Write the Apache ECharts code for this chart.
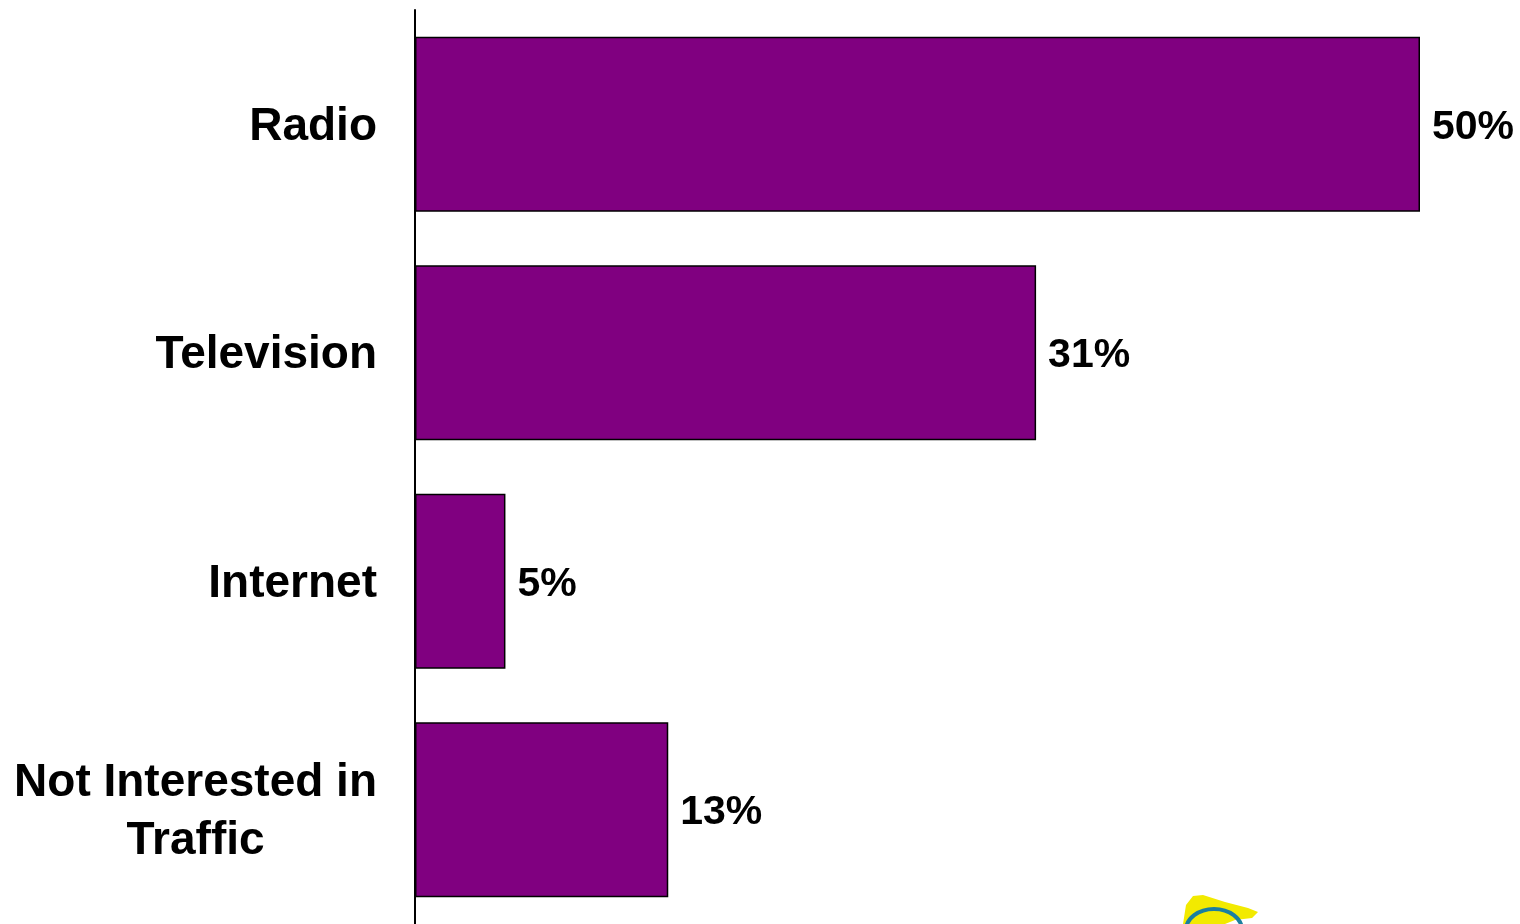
<!DOCTYPE html>
<html>
<head>
<meta charset="utf-8">
<script src="https://cdn.jsdelivr.net/npm/echarts@6/dist/echarts.min.js"></script>
<style>
html,body{margin:0;padding:0;background:#fff;}
#chart{width:1520px;height:924px;}
</style>
</head>
<body>
<div id="chart"></div>
<script>
const categories = ["Radio", "Television", "Internet", "Not Interested in\nTraffic"];
const values = [50, 30.9, 4.5, 12.6];
const valueLabels = ["50%", "31%", "5%", "13%"];

const chart = echarts.init(document.getElementById('chart'));
const FONT = '"Liberation Sans", Arial, sans-serif';
chart.setOption({
  animation: false,
  backgroundColor: '#ffffff',
  grid: { left: 415, right: 100, top: 10, height: 915, containLabel: false },
  xAxis: { type: 'value', min: 0, max: 50, show: false },
  yAxis: {
    type: 'category',
    data: categories,
    inverse: true,
    axisLine: { show: true, lineStyle: { color: '#000', width: 2 } },
    axisTick: { show: false },
    splitLine: { show: false },
    axisLabel: {
      margin: 38,
      color: '#000',
      fontSize: 46,
      fontWeight: 'bold',
      fontFamily: FONT,
      lineHeight: 58,
      padding: [6, 0, 0, 0],
      formatter: function (v) {
        return v.split('\n').map(s => '{c|' + s + '}').join('\n');
      },
      rich: {
        c: { align: 'center', fontSize: 46, fontWeight: 'bold', fontFamily: FONT, color: '#000', lineHeight: 58 }
      }
    }
  },
  series: [{
    type: 'bar',
    data: values,
    barCategoryGap: '23.5%',
    itemStyle: { color: '#800080', borderColor: '#000', borderWidth: 1.5 },
    label: {
      show: true,
      position: 'right',
      distance: 12,
      offset: [0, 3],
      color: '#000',
      fontSize: 41,
      fontWeight: 'bold',
      fontFamily: FONT,
      formatter: p => valueLabels[p.dataIndex]
    }
  }],
  graphic: [
    { type: 'polygon', shape: { points: [[1183,924],[1186,905],[1193,896],[1203,895],[1225,902],[1248,908],[1258,912],[1252,918],[1235,920],[1225,924]] }, style: { fill: '#f2ea00' } },
    { type: 'ellipse', shape: { cx: 1214, cy: 930, rx: 28, ry: 21 }, style: { fill: 'none', stroke: '#1a7fa0', lineWidth: 4 } }
  ]
});
</script>
</body>
</html>
